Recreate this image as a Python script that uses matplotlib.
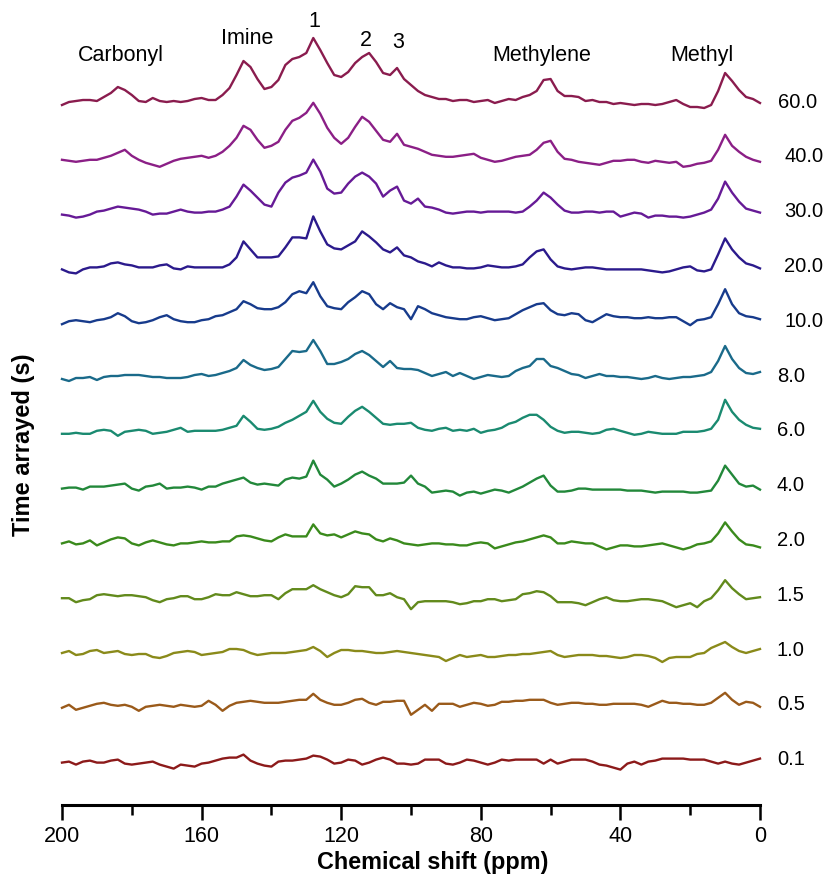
import numpy as np
import matplotlib
matplotlib.use('Agg')
import matplotlib.pyplot as plt

plt.rcParams['font.family'] = ['Liberation Sans', 'DejaVu Sans']

# chemical shift grid (ppm), 2 ppm steps from 200 down to 0
ppm = np.arange(200, -1, -2)

labels = ['60.0', '40.0', '30.0', '20.0', '10.0', '8.0', '6.0',
          '4.0', '2.0', '1.5', '1.0', '0.5', '0.1']
colors = ['#8a1c4e', '#8b1f86', '#661a96', '#2b1a8c', '#173b8c', '#1a6a8a',
          '#1a8a70', '#22883a', '#3a8a1c', '#628a1c', '#8a8a1a', '#9a5a1a',
          '#8c1a1a']

# intensities (a.u.), one value per grid point, rows of 10 = 20 ppm
s60 = [0, 3, 4, 5, 5, 4, 8, 12, 18, 15,
       10, 4, 3, 7, 4, 3, 4, 3, 4, 6,
       7, 5, 5, 10, 17, 30, 44, 38, 26, 16,
       18, 25, 40, 46, 48, 52, 67, 55, 42, 30,
       28, 33, 42, 48, 52, 43, 32, 30, 37, 26,
       20, 14, 10, 8, 6, 6, 4, 5, 5, 3,
       4, 5, 2, 4, 6, 5, 8, 10, 14, 25,
       26, 14, 9, 9, 8, 4, 5, 3, 3, 1,
       2, 1, 0, 1, 1, 0, 1, 3, 5, 1,
       -2, -2, -3, 0, 14, 32, 24, 15, 8, 6,
       2]
s40 = [0, -1, -2, -1, 0, 0, 2, 4, 7, 10,
       4, 0, -3, -5, -7, -4, -1, 1, 2, 3,
       4, 2, 4, 8, 14, 22, 34, 30, 20, 12,
       14, 18, 30, 39, 42, 47, 57, 46, 32, 22,
       16, 22, 33, 43, 38, 29, 20, 18, 26, 15,
       13, 11, 8, 5, 4, 3, 3, 4, 5, 6,
       2, 0, -2, -1, 1, 3, 4, 5, 10, 17,
       19, 8, 1, 0, -2, -3, -4, -5, -3, -1,
       -1, 0, 0, -2, -3, -1, -2, -3, -2, -7,
       -6, -4, -3, -1, 10, 25, 14, 8, 3, 0,
       -2]
s30 = [0, -1, -3, -2, 0, 3, 4, 6, 8, 7,
       6, 5, 3, 0, 1, 1, 3, 5, 3, 2,
       2, 3, 3, 5, 8, 18, 30, 24, 17, 10,
       8, 22, 32, 37, 39, 42, 55, 43, 26, 21,
       22, 31, 38, 42, 38, 31, 18, 24, 28, 14,
       11, 16, 8, 7, 5, 2, 1, 2, 3, 3,
       2, 3, 3, 3, 3, 2, 3, 8, 14, 22,
       17, 10, 4, 2, 2, 3, 3, 2, 3, 3,
       -2, 0, 2, 1, -3, -1, -1, -2, -2, -3,
       -2, 0, 2, 5, 16, 33, 22, 13, 6, 4,
       2]
s20 = [0, -3, -4, 0, 2, 2, 3, 6, 7, 5,
       4, 2, 2, 2, 4, 5, 1, 0, 3, 2,
       2, 2, 2, 2, 5, 12, 28, 20, 12, 12,
       12, 13, 22, 32, 32, 31, 53, 38, 25, 21,
       20, 24, 28, 38, 33, 27, 20, 17, 22, 14,
       12, 8, 6, 3, 7, 4, 2, 2, 1, 1,
       2, 4, 3, 2, 2, 3, 5, 12, 18, 20,
       10, 3, 1, 0, 1, 2, 2, 1, 0, 0,
       0, 0, 0, 0, -1, -2, -3, -2, 0, 2,
       3, -1, -2, 0, 15, 31, 20, 12, 6, 4,
       1]
s10 = [0, 3, 4, 3, 2, 4, 5, 7, 11, 8,
       3, 1, 2, 4, 7, 9, 5, 3, 2, 2,
       4, 5, 8, 9, 12, 15, 23, 20, 16, 15,
       15, 17, 22, 30, 33, 31, 42, 28, 18, 16,
       15, 22, 27, 33, 30, 20, 15, 21, 17, 15,
       5, 18, 15, 11, 9, 7, 6, 5, 5, 7,
       8, 6, 4, 5, 6, 10, 14, 17, 20, 21,
       14, 10, 9, 11, 10, 4, 2, 6, 10, 8,
       7, 7, 6, 6, 7, 6, 6, 7, 7, 3,
       -1, 4, 5, 7, 20, 35, 20, 11, 8, 7,
       5]
s8 = [0, -2, 1, 1, 2, -1, 2, 3, 3, 4,
      4, 4, 3, 2, 2, 1, 1, 1, 2, 4,
      5, 3, 4, 6, 8, 11, 19, 14, 11, 9,
      10, 12, 20, 28, 27, 28, 39, 28, 15, 15,
      17, 20, 25, 28, 24, 18, 12, 18, 11, 10,
      10, 9, 6, 3, 5, 7, 3, 6, 3, 0,
      2, 4, 3, 2, 3, 8, 11, 13, 20, 20,
      13, 11, 8, 5, 4, 1, 3, 5, 3, 3,
      2, 2, 1, 0, 1, 3, 1, 0, 1, 2,
      2, 3, 4, 7, 18, 33, 20, 11, 6, 5,
      7]
s6 = [0, 0, 1, 0, 0, 3, 4, 3, -2, 2,
      3, 4, 3, 0, 1, 2, 4, 6, 2, 3,
      3, 3, 3, 4, 6, 8, 18, 12, 5, 4,
      5, 7, 11, 14, 18, 22, 33, 22, 15, 11,
      10, 17, 23, 27, 22, 16, 10, 9, 10, 10,
      11, 6, 4, 3, 5, 6, 3, 4, 3, 5,
      1, 3, 4, 6, 10, 12, 16, 19, 19, 14,
      7, 3, 1, 2, 2, 1, 0, 1, 4, 5,
      3, 1, -1, 0, 2, 1, 0, 0, 0, 2,
      2, 2, 3, 5, 14, 34, 22, 14, 9, 6,
      5]
s4 = [0, 1, 1, -1, 2, 2, 2, 3, 4, 5,
      0, -2, 2, 3, 5, 0, 1, 1, 2, 1,
      -1, 2, 2, 5, 7, 9, 11, 6, 4, 5,
      4, 3, 9, 11, 10, 12, 28, 14, 9, 2,
      5, 9, 14, 17, 13, 10, 5, 5, 5, 6,
      13, 5, 2, -4, -3, -2, -3, -7, -4, -3,
      -5, -3, -1, -2, -4, -1, 2, 6, 10, 13,
      3, -3, -3, -2, 0, 0, -1, -1, -1, -1,
      -1, -2, -2, -2, -3, -4, -3, -3, -3, -3,
      -4, -4, -3, -2, 8, 23, 14, 5, 2, 3,
      -1]
s2 = [0, 2, -1, 0, 3, -2, 1, 4, 6, 5,
      0, -2, 1, 3, 1, -1, -2, 0, 0, 1,
      2, 1, 1, 2, 2, 7, 8, 7, 5, 3,
      2, 6, 9, 7, 7, 7, 19, 10, 8, 9,
      6, 9, 12, 10, 9, 4, 2, 5, 3, 0,
      -1, -2, -1, 0, 0, -1, -1, -2, -2, 0,
      1, 0, -5, -3, -1, 1, 2, 4, 6, 8,
      6, 0, 0, 2, 1, 0, 0, -3, -6, -4,
      -2, -2, -3, -3, -2, -1, 0, -2, -4, -6,
      -4, -1, 0, 2, 10, 21, 12, 4, -1, -2,
      -4]
s15 = [0, 0, -4, -2, -1, 3, 4, 3, 2, 3,
       3, 2, 1, -2, -4, -1, 0, 2, 2, -1,
       -1, 1, 4, 3, 3, 6, 4, 2, 2, 3,
       3, -1, 5, 9, 9, 9, 13, 9, 6, 3,
       1, 4, 12, 11, 11, 3, 3, 5, 1, -1,
       -11, -4, -3, -3, -3, -3, -4, -6, -5, -3,
       -3, -1, -1, -3, -2, -1, 4, 5, 7, 6,
       2, -4, -4, -4, -5, -7, -4, -1, 1, -2,
       -3, -3, -2, -1, -1, -2, -3, -6, -9, -7,
       -5, -9, -3, 0, 8, 18, 10, 4, -1, 0,
       1]
s1 = [0, 2, -2, -1, 2, 3, 0, 1, 2, -1,
      -2, -1, -1, -4, -5, -3, 0, 1, 2, 1,
      -2, -1, 0, 1, 4, 4, 3, 0, -2, -1,
      0, 0, 0, 1, 2, 3, 6, 2, -4, 0,
      3, 3, 2, 2, 1, 0, 0, 1, 2, 1,
      0, -1, -2, -3, -4, -8, -5, -2, -4, -3,
      -2, -4, -4, -3, -2, -2, -1, -1, 0, 1,
      2, -2, -4, -3, -2, -2, -2, -3, -3, -4,
      -5, -4, -2, -2, -3, -5, -9, -5, -4, -4,
      -4, -1, 0, 5, 8, 11, 6, 2, 0, 2,
      4]
s05 = [0, 3, -2, 0, 2, 4, 5, 3, 2, 3,
       1, -3, 1, 2, 3, 2, 1, 3, 2, 1,
       2, 7, 3, -3, 2, 5, 6, 7, 6, 5,
       5, 5, 6, 7, 8, 8, 14, 8, 5, 3,
       3, 5, 8, 9, 5, 3, 6, 6, 7, 7,
       -7, -2, 3, -3, 4, 4, 4, 1, 3, 5,
       4, 2, 3, 6, 6, 7, 7, 8, 8, 8,
       5, 3, 4, 5, 5, 4, 4, 3, 3, 4,
       4, 4, 4, 3, 1, 4, 7, 5, 5, 4,
       4, 3, 3, 5, 10, 15, 8, 3, 6, 5,
       1]
s01 = [0, 1, -2, 1, 2, 0, 0, 2, 3, -1,
       -2, -1, 0, 1, -2, -4, -6, -2, -3, -4,
       -1, 0, 2, 4, 5, 5, 8, 2, -1, -3,
       -4, 1, 2, 2, 3, 4, 7, 6, 3, -1,
       0, 3, 2, -2, 0, 3, 5, 3, -1, -1,
       -2, -1, 3, 3, 3, -1, -2, 0, 3, 2,
       0, -2, 0, 3, 2, 3, 3, 3, 3, -1,
       3, -1, 1, 3, 3, 3, 1, -2, -3, -5,
       -7, -1, 1, -2, 1, 2, 4, 4, 4, 4,
       3, 3, 3, 1, -1, 1, -1, -2, 0, 2,
       4]

spectra = [s60, s40, s30, s20, s10, s8, s6, s4, s2, s15, s1, s05, s01]

fig = plt.figure(figsize=(8.23, 8.8), dpi=100)
ax = fig.add_axes([62 / 823, 75 / 880, 698 / 823, 805 / 880])
ax.set_xlim(200, 0)
ax.set_ylim(0, 805)

gap = 54.8
top_base = 700
for i, (lab, col, s) in enumerate(zip(labels, colors, spectra)):
    base = top_base - i * gap
    ax.plot(ppm, base + np.array(s), color=col, lw=1.7,
            solid_joinstyle='round', clip_on=False)
    xl = -4.8 if len(lab) == 3 else (-5.3 if lab == '60.0' else -7.0)
    ax.text(xl, base + 3, lab, fontsize=14.5, ha='left', va='center',
            clip_on=False)

# peak annotations
ann = dict(fontsize=15.5, ha='center', va='center')
ax.text(183, 750, 'Carbonyl', **ann)
ax.text(147, 767, 'Imine', **ann)
ax.text(127.8, 783, '1', **ann)
ax.text(112.9, 765, '2', **ann)
ax.text(103.7, 763, '3', **ann)
ax.text(62.5, 749, 'Methylene', **ann)
ax.text(16.6, 749, 'Methyl', **ann)

for side in ['left', 'right', 'top']:
    ax.spines[side].set_visible(False)
ax.spines['bottom'].set_linewidth(2.2)
ax.set_yticks([])
ax.set_xticks([200, 160, 120, 80, 40, 0])
ax.set_xticks([180, 140, 100, 60, 20], minor=True)
ax.tick_params(axis='x', which='major', length=11, width=1.8,
               labelsize=15.5, pad=4)
ax.tick_params(axis='x', which='minor', length=7.5, width=1.8)

fig.text(433 / 823, 1 - 862 / 880, 'Chemical shift (ppm)', fontsize=16.8,
         fontweight='bold', ha='center', va='center')
fig.text(24 / 823, 1 - 445 / 880, 'Time arrayed (s)', rotation=90,
         fontsize=17, fontweight='bold', ha='center', va='center')

fig.savefig('out.png', dpi=100)
